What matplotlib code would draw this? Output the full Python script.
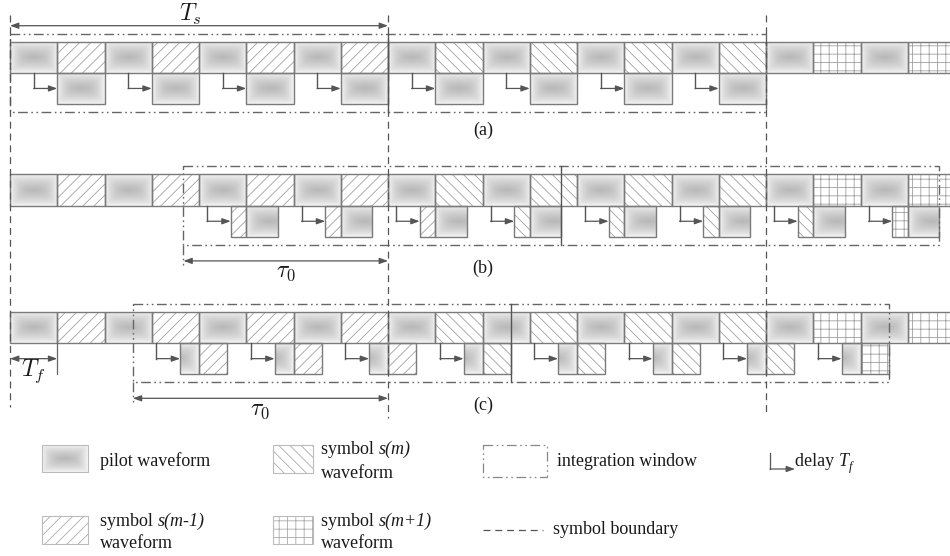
import numpy as np
import matplotlib
matplotlib.use("Agg")
import matplotlib.pyplot as plt
from matplotlib.patches import Rectangle
from matplotlib.colors import LinearSegmentedColormap

plt.rcParams['font.family'] = ['Liberation Serif', 'DejaVu Serif']
plt.rcParams['mathtext.fontset'] = 'cm'
plt.rcParams['hatch.linewidth'] = 0.6
plt.rcParams['lines.scale_dashes'] = False

# frame contents of the received sequence: P = pilot, A = s(m-1), B = s(m), C = s(m+1)
frames = ['P', 'A', 'P', 'A', 'P', 'A', 'P', 'A',
          'P', 'B', 'P', 'B', 'P', 'B', 'P', 'B',
          'P', 'C', 'P', 'C']
boundaries = [0, 8, 16]            # symbol boundaries (frames)
boundary_end = [407, 418, 415]     # px, bottom of each boundary line
win_start = [0.0, 3.67, 2.6]       # integration window start for (a), (b), (c), frames
win_len = 16
half_win = 8
delay_slots = [1, 3, 5, 7, 9, 11, 13, 15]
case_labels = ['(a)', '(b)', '(c)']
label_y = [130, 268, 405]
row_top = [41.5, 174.3, 311.7]

TF = 47.25   # px per frame
X0 = 10      # px position of frame 0
H = 31.3     # px height of one row


def fx(px):
    return (px - X0) / TF


HATCH = {'A': '///', 'B': '\\' * 3, 'C': '++'}
EDGE = '#7a7a7a'
HATCH_C = '#a0a0a0'
DASHDOT = (0, (7, 2.5, 1.2, 2.5, 1.2, 2.5))
DASHED = (0, (5, 3.5))
TXT = '#1a1a1a'

# pilot gradient (soft box shape)
gx = np.linspace(0.01, TF - 0.01, 96)
gy = np.linspace(0.01, H - 0.01, 64)
GX, GY = np.meshgrid(gx, gy)
dx = np.minimum(GX, TF - GX)
dy = np.minimum(GY, H - GY)
p = 3.0
dist = (dx ** -p + dy ** -p) ** (-1 / p)
grad = (dist / dist.max()) ** 0.8
pilot_cmap = LinearSegmentedColormap.from_list('pilot', ['#f6f6f6', '#b9b9b9'])

fig = plt.figure(figsize=(9.5, 5.56), dpi=100)
ax = fig.add_axes([0, 0, 1, 1])
ax.axis('off')


def pilot_img(x_left, width, ytop, h, clip_rect):
    im = ax.imshow(grad, extent=(x_left, x_left + width, ytop + h, ytop), cmap=pilot_cmap,
                   vmin=0, vmax=1, aspect='auto', interpolation='bilinear', zorder=1)
    if clip_rect is not None:
        im.set_clip_path(clip_rect)
    return im


def draw_piece(kind, a, b, ytop, frame_left):
    if kind == 'P':
        clip = Rectangle((a, ytop), b - a, H, transform=ax.transData)
        pilot_img(frame_left, 1, ytop, H, clip)
    else:
        ax.add_patch(Rectangle((a, ytop), b - a, H, facecolor='white', edgecolor=HATCH_C,
                               lw=0, hatch=HATCH[kind], zorder=1))
    ax.add_patch(Rectangle((a, ytop), b - a, H, fill=False, edgecolor=EDGE, lw=1, zorder=2))


def arrow(x0, y0, x1, y1, style='-|>', color='#555555', lw=0.9):
    ax.annotate('', xy=(x1, y1), xytext=(x0, y0),
                arrowprops=dict(arrowstyle=style + ',head_length=0.5,head_width=0.18',
                                color=color, lw=lw, shrinkA=0, shrinkB=0))


for c, (w, top) in enumerate(zip(win_start, row_top)):
    # transmitted row
    for j, kind in enumerate(frames):
        draw_piece(kind, j, j + 1, top, j)
    # delayed row
    for k in delay_slots:
        s0, s1 = w + k - 1, w + k
        for j in range(int(np.floor(s0)), int(np.ceil(s1))):
            a, b = max(s0, j), min(s1, j + 1)
            if b - a > 1e-6:
                draw_piece(frames[j], a + 1, b + 1, top + H, j + 1)
        xs = w + k - 0.5
        ymid = top + 1.5 * H
        ax.plot([xs, xs], [top + H, ymid], color='#555555', lw=1, zorder=3)
        arrow(xs, ymid, w + k, ymid)
    # integration window
    wt, wb = top - 8, top + 2 * H + 8
    ax.add_patch(Rectangle((w, wt), win_len, wb - wt, fill=False, ls=DASHDOT,
                           edgecolor='#666666', lw=1, zorder=3))
    ax.plot([w + half_win] * 2, [wt, wb], color='#555555', lw=1, zorder=3)
    if w > 0:
        tau_y = top + 2 * H + 24
        ax.plot([w, w], [wb, tau_y + 7], ls=DASHDOT, color='#666666', lw=1, zorder=3)
        arrow(w, tau_y, boundaries[1], tau_y, style='<|-|>')
        ax.text((w + boundaries[1]) / 2, tau_y + 12, r'$\tau_0$', fontsize=17,
                ha='center', va='center', color=TXT)
    ax.text(fx(483), label_y[c], case_labels[c], fontsize=13, ha='center', va='center', color=TXT)

# symbol boundaries
for bx, ye in zip(boundaries, boundary_end):
    ax.plot([bx, bx], [15, ye], ls=DASHED, color='#555555', lw=0.9, zorder=3)

# T_s
arrow(boundaries[0], 25.7, boundaries[1], 25.7, style='<|-|>')
ax.text(fx(190), 14, r'$T_s$', fontsize=17, ha='center', va='center', color=TXT)

# T_f
tf_y = row_top[2] + 1.5 * H
arrow(0, tf_y, 1, tf_y, style='<|-|>')
ax.plot([1, 1], [row_top[2] + H, row_top[2] + 2 * H], color='#666666', lw=0.9)
ax.text(fx(33), 371, r'$T_f$', fontsize=17, ha='center', va='center', color=TXT)

# legend
lw_ = fx(88) - fx(42)
pilot_img(fx(42), lw_, 445, 27, None)
ax.add_patch(Rectangle((fx(42), 445), lw_, 27, fill=False, edgecolor='#bbbbbb', lw=0.8, zorder=2))
ax.text(fx(100), 461, 'pilot waveform', fontsize=13, va='center', color=TXT)

for kind, (px, py, tx) in {'A': (42, 516, 100), 'B': (273, 445, 321), 'C': (273, 516, 321)}.items():
    wpx = 46 if kind == 'A' else 40
    ax.add_patch(Rectangle((fx(px), py), wpx / TF, 28, facecolor='white', edgecolor='#aaaaaa',
                           lw=0, hatch=HATCH[kind], zorder=1))
    ax.add_patch(Rectangle((fx(px), py), wpx / TF, 28, fill=False, edgecolor='#bbbbbb', lw=0.8, zorder=2))
    name = {'A': 's(m-1)', 'B': 's(m)', 'C': 's(m+1)'}[kind]
    t1 = ax.text(fx(tx), py + 5, 'symbol ', fontsize=13, va='center', color=TXT)
    ax.annotate(name, xy=(1, 0), xycoords=t1, va='bottom', fontsize=13, style='italic', color=TXT)
    ax.text(fx(tx), py + 28, 'waveform', fontsize=13, va='center', color=TXT)

ax.add_patch(Rectangle((fx(483), 445), 64 / TF, 32, fill=False, ls=DASHDOT,
                       edgecolor='#888888', lw=0.9))
ax.text(fx(557), 461, 'integration window', fontsize=13, va='center', color=TXT)

ax.plot([fx(770), fx(770)], [453, 469], color='#555555', lw=0.9)
arrow(fx(770), 469, fx(795), 469)
t2 = ax.text(fx(795), 462, 'delay ', fontsize=13, va='center', color=TXT)
t3 = ax.annotate('T', xy=(1, 0), xycoords=t2, va='bottom', fontsize=13, style='italic', color=TXT)
ax.annotate('f', xy=(1, 0), xycoords=t3, xytext=(0, -2), textcoords='offset points',
            va='bottom', fontsize=9, style='italic', color=TXT)

ax.plot([fx(483), fx(543)], [530, 530], ls=DASHED, color='#555555', lw=0.9)
ax.text(fx(553), 530, 'symbol boundary', fontsize=13, va='center', color=TXT)

ax.set_xlim(fx(0), fx(950))
ax.set_ylim(556, 0)
fig.savefig('out.png', dpi=100)
